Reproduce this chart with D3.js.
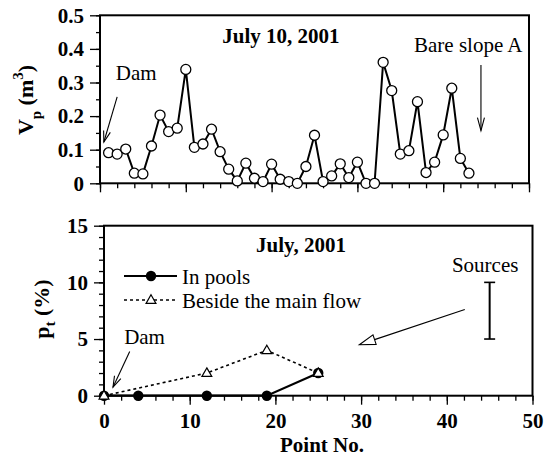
<!DOCTYPE html>
<html><head><meta charset="utf-8">
<script src="https://cdn.jsdelivr.net/npm/d3@7"></script>
<style>
body{margin:0;background:#fff;}
</style></head>
<body><svg id="c" width="544" height="461"></svg>
<script>
// ---- data ----
const topPointNo = [1,2,3,4,5,6,7,8,9,10,11,12,13,14,15,16,17,18,19,20,21,22,23,24,25,26,27,28,29,30,31,32,33,34,35,36,37,38,39,40,41,42,43];
const topVp = [0.091,0.087,0.102,0.030,0.028,0.111,0.203,0.154,0.164,0.339,0.107,0.117,0.161,0.094,0.042,0.007,0.060,0.015,0.005,0.057,0.012,0.005,0.0,0.050,0.143,0.005,0.022,0.058,0.017,0.063,0.0,0.0,0.360,0.276,0.087,0.097,0.243,0.032,0.063,0.144,0.283,0.074,0.030];
const poolsX = [0,4,12,19,25];
const poolsY = [0,0,0,0,2];
const besideX = [0,12,19,25];
const besideY = [0,2,4,2];
const sourcesX = 45, sourcesRange = [5,10];
const topYTicks = [0,0.1,0.2,0.3,0.4,0.5];
const topYTickLabels = ["0","0.1","0.2","0.3","0.4","0.5"];
const xTicks = [0,10,20,30,40,50];
const botYTicks = [0,5,10,15];

const FONT = "Liberation Serif";
const svg = d3.select("#c");

// ---- scales ----
const xT = d3.scaleLinear().domain([0,50]).range([100,529]);
const yT = d3.scaleLinear().domain([0,0.5]).range([183.3,15.3]);
const xB = d3.scaleLinear().domain([0,50]).range([104,532.5]);
const yB = d3.scaleLinear().domain([0,15]).range([395.7,225.7]);

function txt(x,y,s,size,bold){
  return svg.append("text").attr("x",x).attr("y",y).attr("font-family",FONT)
    .attr("font-size",size).attr("font-weight",bold?"bold":"normal").attr("fill","#000").text(s);
}
function frame(x,y){
  svg.append("rect").attr("x",x.range()[0]).attr("y",y.range()[1])
    .attr("width",x.range()[1]-x.range()[0]).attr("height",y.range()[0]-y.range()[1])
    .attr("fill","none").attr("stroke","#000").attr("stroke-width",2);
}
function styleAxis(g){
  g.attr("font-family",FONT).attr("font-size",21);
  g.select(".domain").remove();
  g.selectAll("line").attr("stroke","#000").attr("stroke-width",1.3);
  g.selectAll("text").attr("font-family",FONT).attr("font-size",21).attr("font-weight","bold").attr("fill","#000");
}

// ---- top chart ----
frame(xT,yT);
svg.append("g").attr("transform",`translate(${xT.range()[0]},0)`)
  .call(d3.axisLeft(yT).tickValues(d3.range(0,0.501,0.05)).tickSize(4).tickFormat(""))
  .call(styleAxis);
svg.append("g").attr("transform",`translate(${xT.range()[0]},0)`)
  .call(d3.axisLeft(yT).tickValues(topYTicks).tickSize(10).tickPadding(6).tickFormat((d,i)=>topYTickLabels[i]))
  .call(styleAxis);
svg.append("g").attr("transform",`translate(0,${yT.range()[0]})`)
  .call(d3.axisBottom(xT).tickValues(d3.range(0,51,2)).tickSize(5).tickFormat(""))
  .call(styleAxis);
svg.append("g").attr("transform",`translate(0,${yT.range()[0]})`)
  .call(d3.axisBottom(xT).tickValues(xTicks).tickSize(9).tickFormat(""))
  .call(styleAxis);

const topData = topPointNo.map((x,i)=>[x,topVp[i]]);
svg.append("path").datum(topData)
  .attr("d",d3.line().x(d=>xT(d[0])).y(d=>yT(d[1])))
  .attr("fill","none").attr("stroke","#000").attr("stroke-width",2);
svg.selectAll(".tc").data(topData).enter().append("circle")
  .attr("cx",d=>xT(d[0])).attr("cy",d=>yT(d[1])).attr("r",5)
  .attr("fill","#fff").attr("stroke","#000").attr("stroke-width",1.3);

txt(281,43,"July 10, 2001",21,true).attr("text-anchor","middle");

// y label top
const yl1 = svg.append("text").attr("transform","translate(33,100) rotate(-90)").attr("font-family",FONT)
  .attr("text-anchor","middle").attr("font-size",22).attr("font-weight","bold");
yl1.append("tspan").text("V");
yl1.append("tspan").attr("dy",8).attr("font-size",15).text("p");
yl1.append("tspan").attr("dy",-8).text(" (m");
yl1.append("tspan").attr("dy",-10).attr("font-size",15).text("3");
yl1.append("tspan").attr("dy",10).text(")");

function vArrow(x1,y1,x2,y2,len,half){
  svg.append("line").attr("x1",x1).attr("y1",y1).attr("x2",x2).attr("y2",y2)
    .attr("stroke","#000").attr("stroke-width",1.1);
  const a=Math.atan2(y2-y1,x2-x1);
  const p1=[x2-len*Math.cos(a)+half*Math.sin(a), y2-len*Math.sin(a)-half*Math.cos(a)];
  const p2=[x2-len*Math.cos(a)-half*Math.sin(a), y2-len*Math.sin(a)+half*Math.cos(a)];
  svg.append("path").attr("d",`M${p1}L${x2},${y2}L${p2}`).attr("fill","none")
    .attr("stroke","#000").attr("stroke-width",1.1);
}
function tArrow(x1,y1,x2,y2,len,half){
  const a=Math.atan2(y2-y1,x2-x1);
  const bx=x2-len*Math.cos(a), by=y2-len*Math.sin(a);
  svg.append("line").attr("x1",x1).attr("y1",y1).attr("x2",bx).attr("y2",by)
    .attr("stroke","#000").attr("stroke-width",1.1);
  const p1=[bx+half*Math.sin(a), by-half*Math.cos(a)];
  const p2=[bx-half*Math.sin(a), by+half*Math.cos(a)];
  svg.append("path").attr("d",`M${p1}L${x2},${y2}L${p2}Z`).attr("fill","#fff")
    .attr("stroke","#000").attr("stroke-width",1.1);
}

// Dam (top)
txt(xT(1.85),yT(0.306),"Dam",21,false);
vArrow(xT(2.0),yT(0.257),xT(0.45),yT(0.123),11,3.5);
// Bare slope A
txt(xT(36.6),yT(0.391),"Bare slope A",21,false);
vArrow(xT(44.4),yT(0.352),xT(44.4),yT(0.157),13,3.5);

// ---- bottom chart ----
frame(xB,yB);
svg.append("g").attr("transform",`translate(${xB.range()[0]},0)`)
  .call(d3.axisLeft(yB).tickValues(d3.range(0,16,1)).tickSize(5).tickFormat(""))
  .call(styleAxis);
svg.append("g").attr("transform",`translate(${xB.range()[0]},0)`)
  .call(d3.axisLeft(yB).tickValues(botYTicks).tickSize(10).tickPadding(6).tickFormat(d3.format("d")))
  .call(styleAxis);
svg.append("g").attr("transform",`translate(0,${yB.range()[0]})`)
  .call(d3.axisBottom(xB).tickValues(d3.range(0,51,2)).tickSize(5).tickFormat(""))
  .call(styleAxis);
svg.append("g").attr("transform",`translate(0,${yB.range()[0]})`)
  .call(d3.axisBottom(xB).tickValues(xTicks).tickSize(9).tickPadding(8).tickFormat(d3.format("d")))
  .call(styleAxis);

const pools = poolsX.map((x,i)=>[x,poolsY[i]]);
const beside = besideX.map((x,i)=>[x,besideY[i]]);
svg.append("path").datum(pools).attr("d",d3.line().x(d=>xB(d[0])).y(d=>yB(d[1])))
  .attr("fill","none").attr("stroke","#000").attr("stroke-width",2.2);
svg.append("path").datum(beside).attr("d",d3.line().x(d=>xB(d[0])).y(d=>yB(d[1])))
  .attr("fill","none").attr("stroke","#000").attr("stroke-width",1.6).attr("stroke-dasharray","3,3");
svg.selectAll(".pc").data(pools).enter().append("circle")
  .attr("cx",d=>xB(d[0])).attr("cy",d=>yB(d[1])).attr("r",5.2).attr("fill","#000");
const tri = d3.symbol().type(d3.symbolTriangle).size(42);
svg.selectAll(".bt").data(beside).enter().append("path")
  .attr("d",tri).attr("transform",d=>`translate(${xB(d[0])},${yB(d[1])+0.5})`)
  .attr("fill","#fff").attr("stroke","#000").attr("stroke-width",1.2);

txt(301,252,"July, 2001",21,true).attr("text-anchor","middle");

// legend
svg.append("line").attr("x1",124).attr("x2",177).attr("y1",276).attr("y2",276)
  .attr("stroke","#000").attr("stroke-width",2.2);
svg.append("circle").attr("cx",151).attr("cy",276).attr("r",5.2).attr("fill","#000");
txt(182,284,"In pools",21,false);
svg.append("line").attr("x1",124).attr("x2",177).attr("y1",300).attr("y2",300)
  .attr("stroke","#000").attr("stroke-width",1.6).attr("stroke-dasharray","3,3");
svg.append("path").attr("d",tri).attr("transform","translate(151,300.5)")
  .attr("fill","#fff").attr("stroke","#000").attr("stroke-width",1.2);
txt(182,308,"Beside the main flow",21,false);

// y label bottom
const yl2 = svg.append("text").attr("transform","translate(49,309) rotate(-90)").attr("font-family",FONT)
  .attr("text-anchor","middle").attr("font-size",22).attr("font-weight","bold");
yl2.append("tspan").text("p");
yl2.append("tspan").attr("dy",6).attr("font-size",15).text("t");
yl2.append("tspan").attr("dy",-6).text(" (%)");

// x label
txt(322,452,"Point No.",21,true).attr("text-anchor","middle");

// Dam (bottom)
txt(xB(2.35),yB(4.6),"Dam",21,false);
vArrow(xB(3.0),yB(3.9),xB(1.05),yB(0.75),11,3.5);

// Sources
txt(xB(40.6),yB(10.9),"Sources",21,false);
svg.append("line").attr("x1",xB(sourcesX)).attr("x2",xB(sourcesX))
  .attr("y1",yB(sourcesRange[0])).attr("y2",yB(sourcesRange[1])).attr("stroke","#000").attr("stroke-width",2);
sourcesRange.forEach(v=>{
  svg.append("line").attr("x1",xB(sourcesX)-5.5).attr("x2",xB(sourcesX)+5.5)
    .attr("y1",yB(v)).attr("y2",yB(v)).attr("stroke","#000").attr("stroke-width",1.6);
});
tArrow(xB(42.1),yB(7.6),xB(29.8),yB(4.5),16,5);
</script></body></html>
